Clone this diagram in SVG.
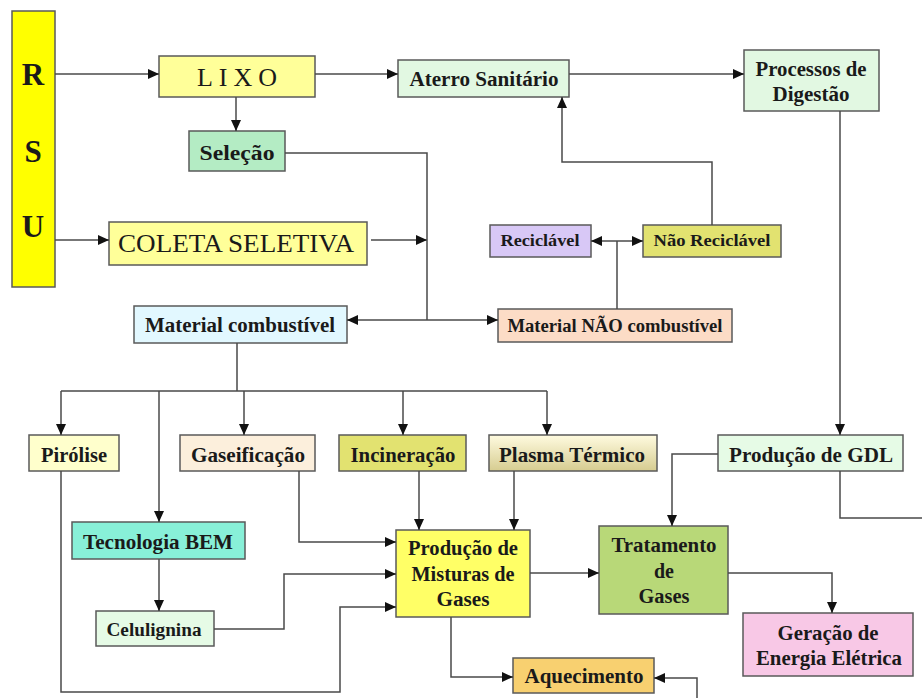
<svg xmlns="http://www.w3.org/2000/svg" width="922" height="698" viewBox="0 0 922 698">
<style>
.b{stroke:#5a5a5a;stroke-width:1.5}
.t{font-family:"Liberation Serif","Times New Roman",serif;font-weight:bold;font-size:20px;fill:#1a1a1a;text-anchor:middle}
.r{font-weight:normal}
.c path{fill:none;stroke:#4a4a4a;stroke-width:1.5}
.a{marker-end:url(#ah)}
</style>
<defs>
<marker id="ah" markerUnits="userSpaceOnUse" markerWidth="12" markerHeight="10" refX="11" refY="5" orient="auto">
<path d="M0,0 L11,5 L0,10 z" fill="#111"/>
</marker>
<linearGradient id="pg" x1="0" y1="0" x2="0" y2="1">
<stop offset="0" stop-color="#fffbe0"/>
<stop offset="1" stop-color="#d6cc90"/>
</linearGradient>
</defs>
<rect width="922" height="698" fill="#fff"/>

<g id="rsu"><rect class="b" x="12" y="11" width="43" height="276" fill="#ffff00"/>
<text class="t" x="33" y="85" style="font-size:31px">R</text>
<text class="t" x="33" y="162" style="font-size:31px">S</text>
<text class="t" x="33" y="237" style="font-size:31px">U</text></g>

<g id="lixo"><rect class="b" x="159" y="56" width="156" height="41" fill="#ffff99"/>
<text class="t r" x="237" y="86" style="font-size:26px" textLength="80">LIXO</text></g>

<g id="aterro"><rect class="b" x="398" y="60" width="171" height="37" fill="#e2f8e2"/>
<text class="t" x="484" y="86" textLength="149" lengthAdjust="spacingAndGlyphs">Aterro Sanitário</text></g>

<g id="processos"><rect class="b" x="744" y="50" width="135" height="61" fill="#e2f8e2"/>
<text class="t" x="811" y="76" textLength="111" lengthAdjust="spacingAndGlyphs">Processos de</text>
<text class="t" x="811" y="101" textLength="77" lengthAdjust="spacingAndGlyphs">Digestão</text></g>

<g id="selecao"><rect class="b" x="189" y="131" width="96" height="40" fill="#b4ecc4"/>
<text class="t" x="237" y="160" textLength="75" lengthAdjust="spacingAndGlyphs">Seleção</text></g>

<g id="coleta"><rect class="b" x="109" y="222" width="258" height="43" fill="#ffff99"/>
<text class="t r" x="236" y="252" style="font-size:25px" textLength="236" lengthAdjust="spacingAndGlyphs">COLETA SELETIVA</text></g>

<g id="reciclavel"><rect class="b" x="490" y="225" width="101" height="32" fill="#d8c8f6"/>
<text class="t" x="540" y="246" style="font-size:17px" textLength="79" lengthAdjust="spacingAndGlyphs">Reciclável</text></g>

<g id="naoreciclavel"><rect class="b" x="643" y="225" width="138" height="32" fill="#e2e270"/>
<text class="t" x="712" y="246" style="font-size:17px" textLength="117" lengthAdjust="spacingAndGlyphs">Não Reciclável</text></g>

<g id="matcomb"><rect class="b" x="134" y="306" width="213" height="37" fill="#e2f8ff"/>
<text class="t" x="240" y="332" textLength="190" lengthAdjust="spacingAndGlyphs">Material combustível</text></g>

<g id="matnaocomb"><rect class="b" x="498" y="309" width="234" height="33" fill="#fcdcc6"/>
<text class="t" x="615" y="332" style="font-size:18px" textLength="215" lengthAdjust="spacingAndGlyphs">Material NÃO combustível</text></g>

<g id="pirolise"><rect class="b" x="29" y="435" width="90" height="36" fill="#ffffcc"/>
<text class="t" x="74" y="462" textLength="66" lengthAdjust="spacingAndGlyphs">Pirólise</text></g>

<g id="gaseificacao"><rect class="b" x="180" y="435" width="135" height="36" fill="#fcefdc"/>
<text class="t" x="248" y="462" textLength="114" lengthAdjust="spacingAndGlyphs">Gaseificação</text></g>

<g id="incineracao"><rect class="b" x="339" y="435" width="127" height="36" fill="#e2e270"/>
<text class="t" x="403" y="462" textLength="105" lengthAdjust="spacingAndGlyphs">Incineração</text></g>

<g id="plasma"><rect class="b" x="489" y="435" width="168" height="36" fill="url(#pg)"/>
<text class="t" x="572" y="462" textLength="146" lengthAdjust="spacingAndGlyphs">Plasma Térmico</text></g>

<g id="gdl"><rect class="b" x="718" y="435" width="185" height="36" fill="#e6fbe6"/>
<text class="t" x="811" y="462" textLength="164" lengthAdjust="spacingAndGlyphs">Produção de GDL</text></g>

<g id="bem"><rect class="b" x="72" y="522" width="173" height="37" fill="#88f0d8"/>
<text class="t" x="158" y="549" textLength="150" lengthAdjust="spacingAndGlyphs">Tecnologia BEM</text></g>

<g id="celulignina"><rect class="b" x="96" y="611" width="118" height="35" fill="#e6fbe6"/>
<text class="t" x="154" y="636" style="font-size:18px" textLength="95" lengthAdjust="spacingAndGlyphs">Celulignina</text></g>

<g id="misturas"><rect class="b" x="396" y="530" width="134" height="87" fill="#ffff66"/>
<text class="t" x="463" y="555" textLength="110" lengthAdjust="spacingAndGlyphs">Produção de</text>
<text class="t" x="463" y="581" textLength="103" lengthAdjust="spacingAndGlyphs">Misturas de</text>
<text class="t" x="463" y="606" textLength="53" lengthAdjust="spacingAndGlyphs">Gases</text></g>

<g id="tratamento"><rect class="b" x="599" y="526" width="129" height="88" fill="#b8d878"/>
<text class="t" x="664" y="552" textLength="105" lengthAdjust="spacingAndGlyphs">Tratamento</text>
<text class="t" x="664" y="578">de</text>
<text class="t" x="664" y="603" textLength="51" lengthAdjust="spacingAndGlyphs">Gases</text></g>

<g id="geracao"><rect class="b" x="743" y="613" width="170" height="63" fill="#f8c8e6"/>
<text class="t" x="828" y="640" textLength="101" lengthAdjust="spacingAndGlyphs">Geração de</text>
<text class="t" x="829" y="665" textLength="146" lengthAdjust="spacingAndGlyphs">Energia Elétrica</text></g>

<g id="aquecimento"><rect class="b" x="513" y="658" width="141" height="35" fill="#f8d070"/>
<text class="t" x="584" y="683" textLength="119" lengthAdjust="spacingAndGlyphs">Aquecimento</text></g>

<g id="connectors" class="c">
<path class="a" d="M55,74 H159"/>
<path class="a" d="M315,74 H398"/>
<path class="a" d="M569,74 H744"/>
<path class="a" d="M236,97 V131"/>
<path class="a" d="M55,240 H109"/>
<path class="a" d="M371,240 H427"/>
<path d="M285,153 H427 V320"/>
<path class="a" d="M427,320 H347"/>
<path class="a" d="M427,320 H498"/>
<path class="a" d="M712,225 V162 H562 V97"/>
<path d="M617,309 V241"/>
<path class="a" d="M617,241 H591"/>
<path class="a" d="M617,241 H643"/>
<path class="a" d="M840,111 V435"/>
<path d="M237,343 V391 M61,391 H547"/>
<path class="a" d="M61,391 V435"/>
<path class="a" d="M244,391 V435"/>
<path class="a" d="M403,391 V435"/>
<path class="a" d="M547,391 V435"/>
<path class="a" d="M159,391 V522"/>
<path class="a" d="M61,471 V692 H340 V607 H396"/>
<path class="a" d="M299,471 V542 H396"/>
<path class="a" d="M419,471 V530"/>
<path class="a" d="M514,471 V530"/>
<path class="a" d="M159,559 V611"/>
<path class="a" d="M214,629 H284 V574 H396"/>
<path class="a" d="M530,573 H599"/>
<path class="a" d="M718,454 H672 V526"/>
<path d="M840,471 V518 H922"/>
<path class="a" d="M728,573 H832 V613"/>
<path class="a" d="M451,617 V677 H513"/>
<path class="a" d="M697,698 V678 H654"/>
</g>
</svg>
